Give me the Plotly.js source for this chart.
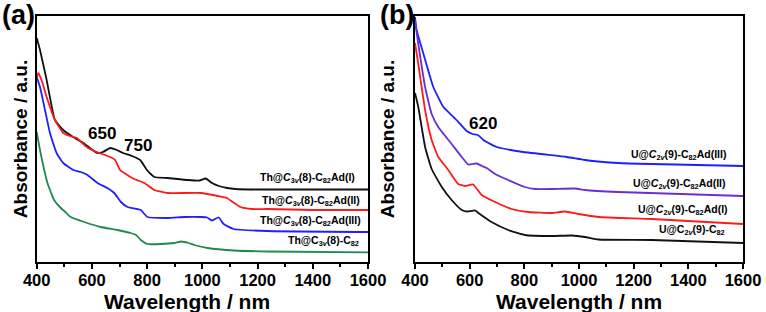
<!DOCTYPE html>
<html>
<head>
<meta charset="utf-8">
<script src="https://cdn.plot.ly/plotly-3.0.1.min.js"></script>
<style>html,body{margin:0;padding:0;background:#fff;}#chart{width:766px;height:312px;}</style>
</head>
<body>
<div id="chart"></div>
<script>
// ---- Panel (a): Th@C3v(8)-C82 and its adducts ----
var thAd1_x = [400, 412, 436, 466, 496, 532, 569, 618, 640, 666, 690, 713, 745, 775, 799, 826, 874, 947, 990, 1012, 1035, 1060, 1090, 1120, 1200, 1400, 1600];
var thAd1_y = [224, 212, 182, 142, 132, 125, 119, 109, 110, 114, 112, 109, 106, 102, 92, 85, 84, 82, 81.5, 83.5, 79, 76, 74, 73, 72.5, 72.5, 72.5];

var thAd2_x = [400, 406, 420, 436, 466, 496, 520, 545, 581, 618, 666, 684, 702, 717, 753, 790, 826, 874, 995, 1056, 1089, 1110, 1138, 1180, 1234, 1400, 1600];
var thAd2_y = [184, 189, 180, 165, 142, 129, 126, 124, 115, 110, 105, 102, 92, 89, 83, 79, 72, 69, 69, 66, 64, 60, 55, 53, 53, 52, 52];

var thAd3_x = [400, 412, 430, 448, 472, 496, 533, 560, 584, 620, 656, 681, 705, 729, 777, 801, 874, 935, 995, 1017, 1035, 1059, 1077, 1113, 1234, 1600];
var thAd3_y = [185, 175, 152, 129, 109, 99, 92, 90, 87, 79, 74, 69, 60, 55, 52, 45, 44, 45, 45, 44.5, 41.5, 44.5, 38, 33, 31, 30];

var thC82_x = [400, 414, 439, 463, 487, 500, 523, 572, 632, 693, 740, 760, 777, 801, 850, 898, 925, 950, 971, 1019, 1116, 1237, 1600];
var thC82_y = [130, 109, 79, 62, 54, 51, 45, 40, 35, 32, 29, 27, 22, 18, 18, 19, 20.5, 19, 17, 14, 11.5, 10.5, 9.7];

// ---- Panel (b): U@C2v(9)-C82 and its adducts ----
var uAd3_x = [400, 406, 430, 467, 504, 552, 589, 610, 630, 650, 662, 699, 796, 955, 1022, 1144, 1266, 1600];
var uAd3_y = [245, 232, 209, 175, 155, 142, 131, 128, 127, 122, 120, 115, 110, 105, 102, 99, 98, 96];

var uAd2_x = [400, 412, 437, 461, 485, 534, 571, 595, 626, 645, 662, 693, 741, 802, 839, 900, 985, 1022, 1144, 1600];
var uAd2_y = [241, 218, 175, 148, 135, 118, 105, 97.5, 98.5, 96, 94, 88, 82, 75, 73, 73, 73.5, 72, 70, 66];

var uAd1_x = [400, 412, 437, 461, 485, 522, 558, 583, 613, 644, 693, 754, 815, 900, 949, 997, 1071, 1266, 1600];
var uAd1_y = [219, 198, 152, 122, 105, 92, 78, 76, 77.5, 67, 60, 53, 50, 49, 50.5, 48, 45, 43, 38];

var uC82_x = [400, 412, 437, 461, 498, 534, 571, 590, 620, 632, 680, 741, 802, 900, 973, 1022, 1071, 1266, 1600];
var uC82_y = [169, 155, 115, 93, 75, 62, 52, 50.5, 51.5, 49, 40, 32, 27, 26, 26.5, 25, 22.5, 22, 19];

// tick labels
var tickVals = [400, 600, 800, 1000, 1200, 1400, 1600];
var tickText = ['400', '600', '800', '1000', '1200', '1400', '1600'];

var FONT = 'Arial, "Liberation Sans", sans-serif';
var W = 766, H = 312;
function px(x) { return x / W; }
function py(y) { return (H - y) / H; }

function tr(x, y, color, xa, ya) {
  return {x: x, y: y, type: 'scatter', mode: 'lines', xaxis: xa, yaxis: ya,
    line: {color: color, width: 1.8, shape: 'spline', smoothing: 0.4}, hoverinfo: 'skip'};
}

var data = [
  tr(thAd1_x, thAd1_y, '#111111', 'x', 'y'),
  tr(thAd2_x, thAd2_y, '#ff1a1a', 'x', 'y'),
  tr(thAd3_x, thAd3_y, '#1f1fff', 'x', 'y'),
  tr(thC82_x, thC82_y, '#1f8a4c', 'x', 'y'),
  tr(uAd3_x, uAd3_y, '#1f1fff', 'x2', 'y2'),
  tr(uAd2_x, uAd2_y, '#6a2fd0', 'x2', 'y2'),
  tr(uAd1_x, uAd1_y, '#ff1a1a', 'x2', 'y2'),
  tr(uC82_x, uC82_y, '#111111', 'x2', 'y2')
];

function xax(domain) {
  return {
    domain: domain, range: [400, 1600], showline: true, linewidth: 2, linecolor: '#000', mirror: true,
    ticks: 'outside', ticklen: 5, tickwidth: 2, tickcolor: '#000',
    tickmode: 'array', tickvals: tickVals, ticktext: tickText, ticklabelstandoff: -3,
    minor: {ticks: 'outside', dtick: 100, tick0: 400, ticklen: 3, tickwidth: 2, tickcolor: '#000'},
    tickfont: {family: FONT, size: 16.5, color: '#000', weight: 'bold'},
    showgrid: false, zeroline: false, fixedrange: true
  };
}
function yax(anchor, standoff) {
  return {
    domain: [py(262), py(16)], range: [0, 246], anchor: anchor,
    showline: true, linewidth: 2, linecolor: '#000', mirror: true,
    ticks: '', showticklabels: false, showgrid: false, zeroline: false, fixedrange: true,
    title: {text: 'Absorbance / a.u.', font: {family: FONT, size: 19, color: '#000', weight: 'bold'}, standoff: standoff}
  };
}

function ann(text, x, y, size, xanchor) {
  return {text: '<b>' + text + '</b>', xref: 'paper', yref: 'paper', x: px(x), y: py(y),
    xanchor: xanchor || 'right', yanchor: 'middle', showarrow: false,
    font: {family: FONT, size: size, color: '#000'}};
}

var layout = {
  width: W, height: H, margin: {l: 0, r: 0, t: 0, b: 0},
  paper_bgcolor: '#fff', plot_bgcolor: '#fff', showlegend: false,
  xaxis: Object.assign(xax([px(36.7), px(368)]), {anchor: 'y'}),
  yaxis: yax('x', 2),
  xaxis2: Object.assign(xax([px(415), px(743)]), {anchor: 'y2'}),
  yaxis2: yax('x2', 13),
  annotations: [
    ann('Wavelength / nm', 187, 301, 21, 'center'),
    ann('Wavelength / nm', 579, 301, 21, 'center'),
    ann('(a)', 18, 15, 27, 'center'),
    ann('(b)', 397, 15, 27, 'center'),
    ann('650', 102, 133, 17, 'center'),
    ann('750', 138, 145, 17, 'center'),
    ann('620', 483, 123, 17, 'center'),
    ann('Th@<i>C</i><sub>3<i>v</i></sub>(8)-C<sub>82</sub>Ad(I)', 357, 178, 10.5),
    ann('Th@<i>C</i><sub>3<i>v</i></sub>(8)-C<sub>82</sub>Ad(II)', 362, 201, 10.5),
    ann('Th@<i>C</i><sub>3<i>v</i></sub>(8)-C<sub>82</sub>Ad(III)', 363, 221, 10.5),
    ann('Th@C<sub>3<i>v</i></sub>(8)-C<sub>82</sub>', 361, 241, 10.5),
    ann('U@<i>C</i><sub>2<i>v</i></sub>(9)-C<sub>82</sub>Ad(III)', 728, 155, 10.5),
    ann('U@<i>C</i><sub>2<i>v</i></sub>(9)-C<sub>82</sub>Ad(II)', 728, 184, 10.5),
    ann('U@<i>C</i><sub>2<i>v</i></sub>(9)-C<sub>82</sub>Ad(I)', 730, 210, 10.5),
    ann('U@C<sub>2<i>v</i></sub>(9)-C<sub>82</sub>', 727, 230, 10.5)
  ]
};

Plotly.newPlot('chart', data, layout, {staticPlot: true, displayModeBar: false});
</script>
</body>
</html>
